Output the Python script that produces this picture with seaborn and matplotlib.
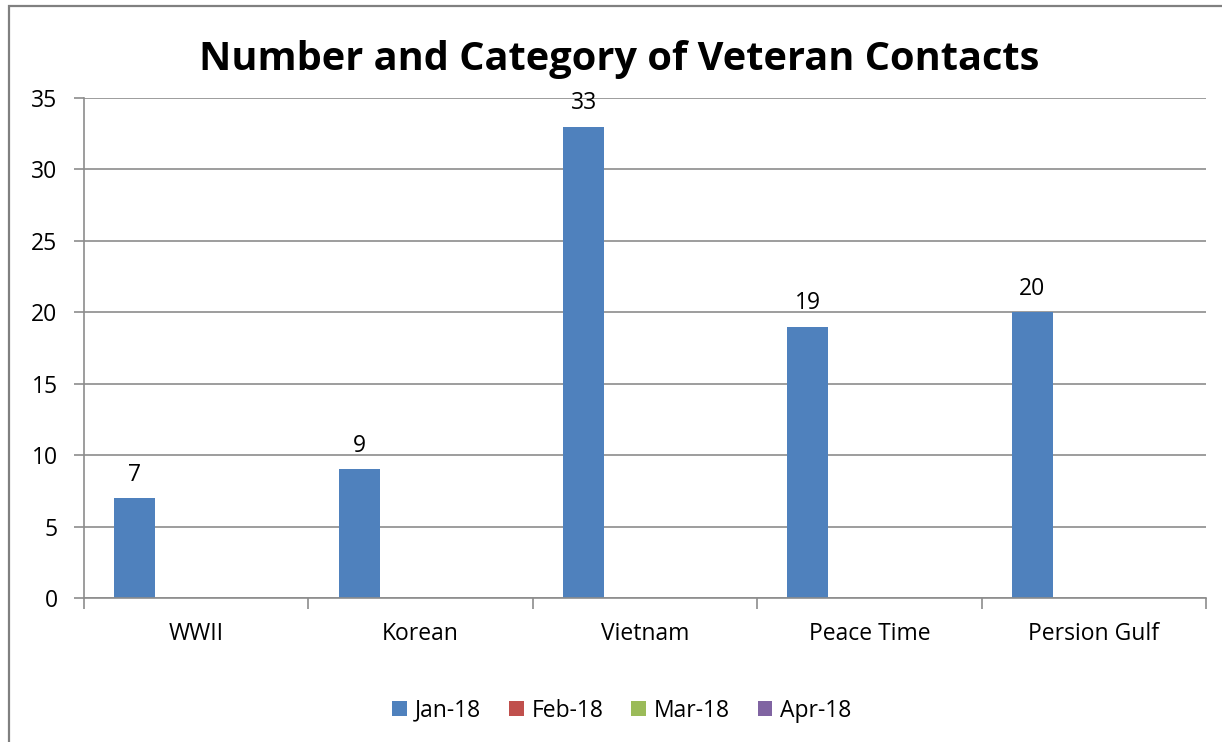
import numpy as np
import pandas as pd
import seaborn as sns
import matplotlib.pyplot as plt
from matplotlib.patches import Rectangle

categories = ["WWII", "Korean", "Vietnam", "Peace Time", "Persion Gulf"]
months = ["Jan-18", "Feb-18", "Mar-18", "Apr-18"]
jan_18 = [7, 9, 33, 19, 20]
feb_18 = [0, 0, 0, 0, 0]
mar_18 = [0, 0, 0, 0, 0]
apr_18 = [0, 0, 0, 0, 0]
colors = ["#4F81BD", "#C0504D", "#9BBB59", "#8064A2"]

df = pd.DataFrame({"Category": categories, "Jan-18": jan_18, "Feb-18": feb_18,
                   "Mar-18": mar_18, "Apr-18": apr_18})
df = df.melt(id_vars="Category", var_name="Month", value_name="Count")

sns.set_style("white")
plt.rcParams["font.family"] = ["Open Sans", "DejaVu Sans"]
plt.rcParams["text.color"] = "black"
plt.rcParams["xtick.labelcolor"] = "black"
plt.rcParams["ytick.labelcolor"] = "black"

FS = 16.5

fig = plt.figure(figsize=(12.22, 7.42), dpi=100)
ax = fig.add_axes([84 / 1222, 1 - 598 / 742, (1206 - 84) / 1222, 500 / 742])

sns.barplot(data=df, x="Category", y="Count", hue="Month", order=categories,
            hue_order=months, palette=colors, width=0.73, linewidth=0,
            saturation=1, ax=ax, legend=True)

ax.bar_label(ax.containers[0], labels=[str(v) for v in jan_18],
             padding=8, fontsize=FS, color="black")

ax.set_ylim(0, 35)
ax.set_yticks(np.arange(0, 36, 5))
ax.set_xlim(-0.5, len(categories) - 0.5)
ax.yaxis.grid(True, color="#8c8c8c", linewidth=1.2)
ax.set_axisbelow(True)
for s in ["top", "right"]:
    ax.spines[s].set_visible(False)
for s in ["left", "bottom"]:
    ax.spines[s].set_color("#8c8c8c")
    ax.spines[s].set_linewidth(1.2)

ax.set_xlabel("")
ax.set_ylabel("")
ax.tick_params(axis="y", which="major", length=7, width=1.2, color="#8c8c8c",
               direction="out", left=True, labelsize=FS, pad=12)
ax.tick_params(axis="x", which="major", length=0, labelsize=FS, pad=17)
ax.set_xticks(np.arange(-0.5, len(categories), 1.0), minor=True)
ax.tick_params(axis="x", which="minor", length=8, width=1.2, color="#8c8c8c",
               direction="out", bottom=True)

# title sits centred on the chart area, a little left of the plot centre
ax.set_title("Number and Category of Veteran Contacts", fontsize=28.6,
             fontweight="bold", pad=20, color="black", x=0.477)

ax.legend(loc="upper center", bbox_to_anchor=(0.4795, -0.16), ncol=4,
          frameon=False, fontsize=FS, handlelength=0.65, handleheight=0.65,
          handletextpad=0.35, columnspacing=1.2)

fig.patches.append(Rectangle((8.5 / 1222, -0.1), 1.2, 1 - 5.5 / 742 + 0.1,
                             transform=fig.transFigure, fill=False,
                             edgecolor="#808080", linewidth=1.6))

fig.savefig("out.png", dpi=100)
